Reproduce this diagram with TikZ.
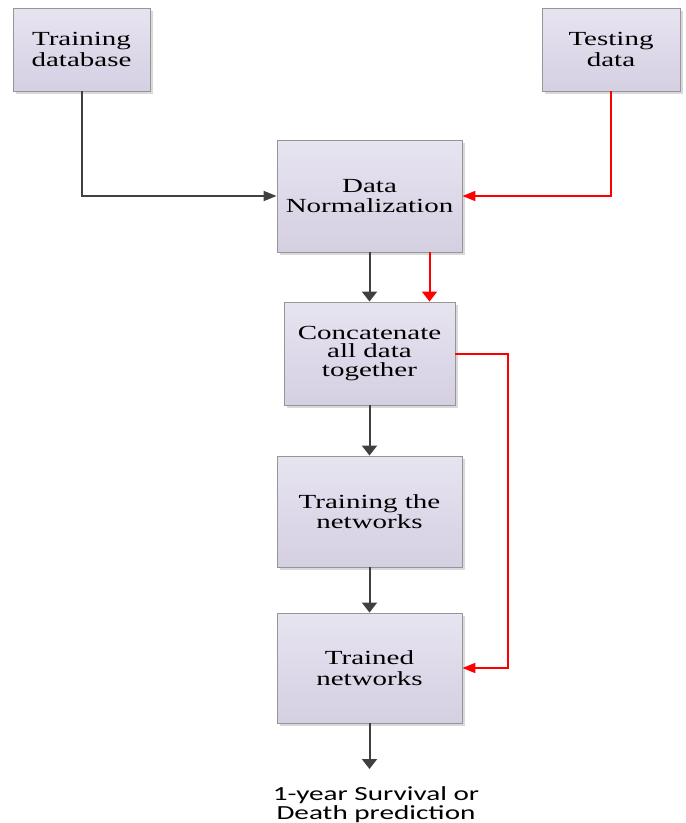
\documentclass[tikz,border=0pt]{standalone}
\usepackage{fontspec}
\newfontfamily\boxfont[FakeStretch=1.45]{Liberation Serif}
\newfontfamily\capfont[FakeStretch=1.46]{Carlito}
\usetikzlibrary{arrows.meta,shadows,calc}
\definecolor{boxtop}{RGB}{231,228,241}
\definecolor{boxbot}{RGB}{213,207,226}
\definecolor{boxline}{RGB}{150,150,150}
\definecolor{darkline}{RGB}{64,64,64}
\definecolor{redline}{RGB}{255,0,0}
\tikzset{
  stepbox/.style={draw=boxline, line width=0.9pt, top color=boxtop, bottom color=boxbot,
    inner sep=0pt, align=center, font=\boxfont\fontsize{20}{20.5}\selectfont,
    drop shadow={shadow xshift=3pt, shadow yshift=-3pt, fill=black!25, opacity=0.6}},
  vtip/.tip={Triangle[width=15pt,length=10pt]},
  htip/.tip={Triangle[width=10pt,length=13pt]},
  darkarrow/.style={draw=darkline, line width=2pt},
  redarrow/.style={draw=redline, line width=2pt},
}
\begin{document}
\begin{tikzpicture}[x=1pt,y=-1pt]
\useasboundingbox (0,0) rectangle (686,823);
\node[stepbox, minimum width=137pt, minimum height=83pt] (tdb) at (81.5,49.5) {Training\\database};
\node[stepbox, minimum width=138pt, minimum height=83pt] (test) at (611,49.5) {Testing\\data};
\node[stepbox, minimum width=185pt, minimum height=112pt] (norm) at (369.5,196) {Data\\Normalization};
\node[stepbox, minimum width=171pt, minimum height=103pt, font=\boxfont\fontsize{20}{18.8}\selectfont] (concat) at (369.5,353.5) {Concatenate\\all data\\together};
\node[stepbox, minimum width=185pt, minimum height=111pt] (trainnet) at (369.5,511.5) {Training the\\networks};
\node[stepbox, minimum width=185pt, minimum height=110pt] (trained) at (369.5,668) {Trained\\networks};
\coordinate (outend) at (369.5,769);
\node[anchor=north, align=center, inner sep=0pt, font=\capfont\fontsize{20}{19.5}\selectfont] (result) at (376,786) {1-year Survival or\\Death prediction};

\draw[darkarrow, -htip] (tdb.south) |- (norm.west);
\draw[redarrow, -htip] (test.south) |- (norm.east);
\draw[darkarrow, -vtip] (norm.south) -- (concat.north);
\draw[redarrow, -vtip] ([xshift=60pt]norm.south) -- ([xshift=60pt]norm.south |- concat.north);
\draw[darkarrow, -vtip] (concat.south) -- (trainnet.north);
\draw[darkarrow, -vtip] (trainnet.south) -- (trained.north);
\draw[darkarrow, -vtip] (trained.south) -- (outend);
\draw[redarrow, -htip] (concat.east) -- ++(53,0) |- (trained.east);
\end{tikzpicture}
\end{document}
